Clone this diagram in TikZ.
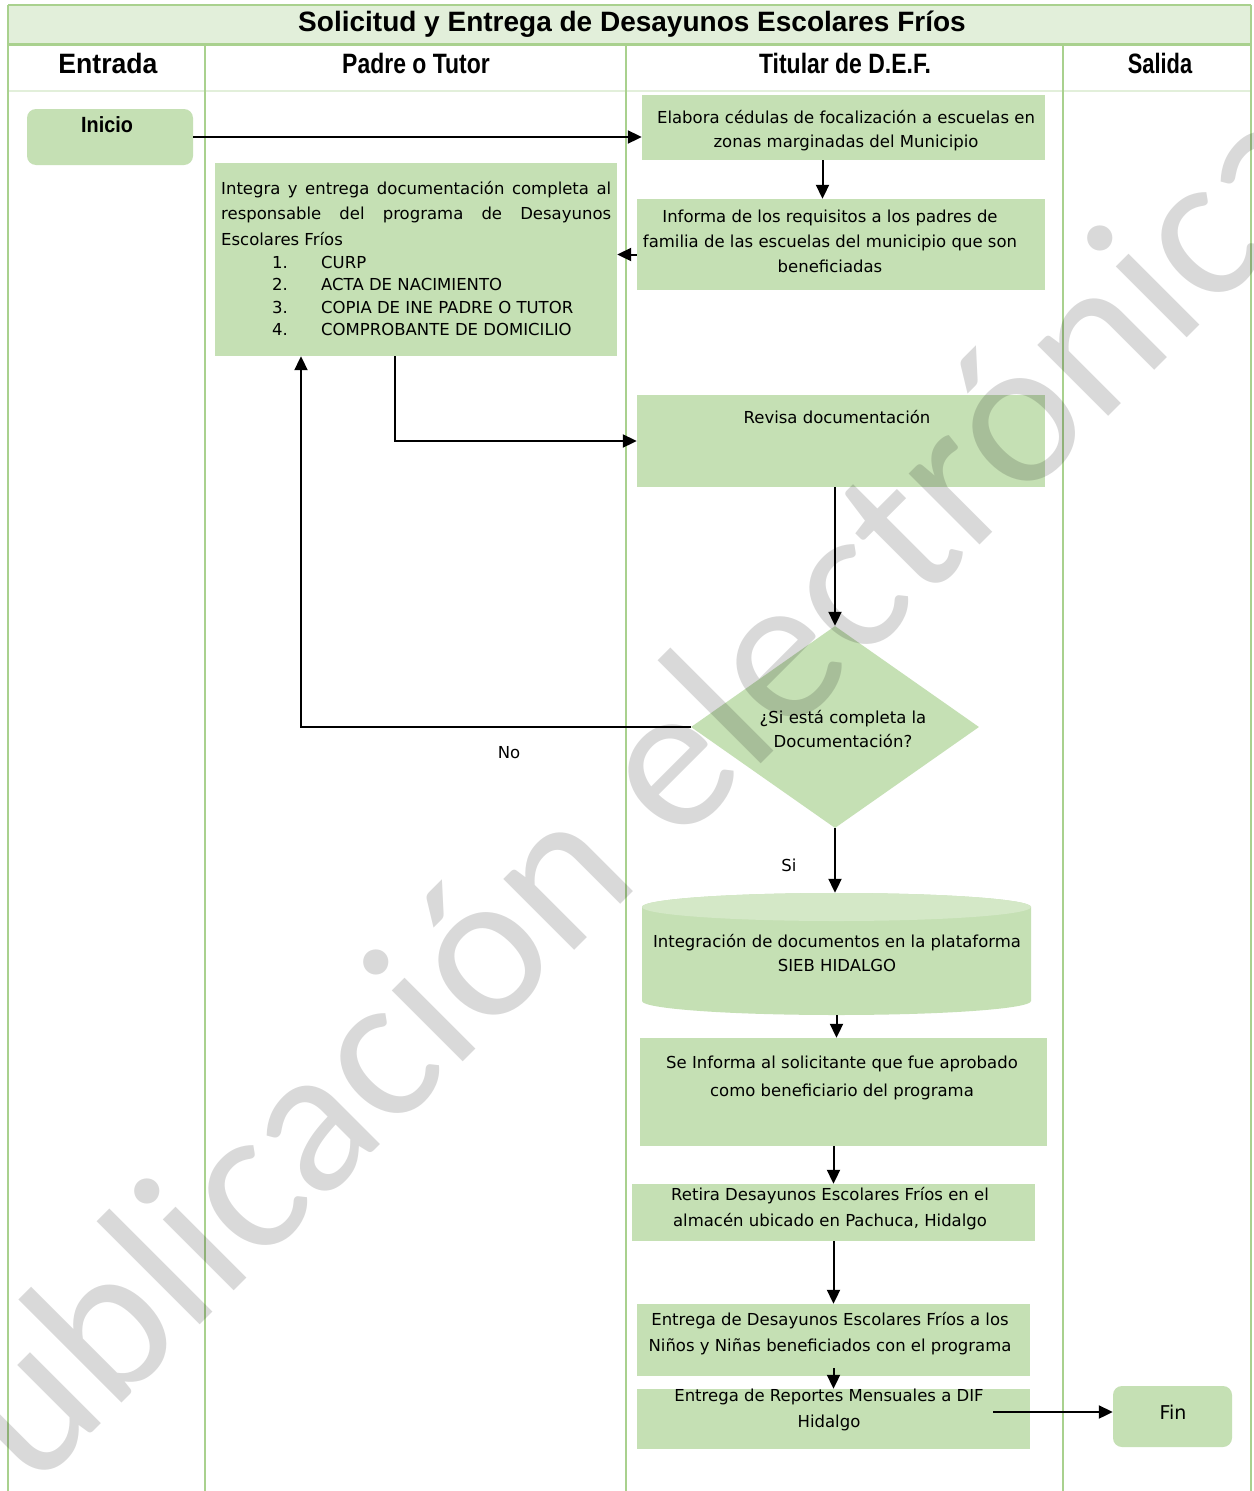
\documentclass[tikz,border=0pt]{standalone}
\usepackage{fontspec}
\usepackage{graphicx}
\setmainfont{Liberation Sans}
\newfontfamily\bodyfont{DejaVu Sans}
\newfontfamily\wmfont{Carlito}
\usetikzlibrary{arrows.meta,shapes.geometric,fit}
\definecolor{lanegreen}{HTML}{A9D18E}
\definecolor{bandfill}{HTML}{E2EFDA}
\definecolor{boxfill}{HTML}{C5E0B4}
\definecolor{cyltop}{HTML}{D4E8C7}

\begin{document}
\begin{tikzpicture}[x=1pt,y=-1pt,
  lane/.style={draw=lanegreen,line width=1.8pt},
  pbox/.style={fill=boxfill,draw=none,inner sep=0pt},
  rbox/.style={pbox,rounded corners=9pt},
  % multi-line texts are placed by the baseline of their last line
  body/.style={font=\bodyfont\fontsize{16.5pt}{#1}\selectfont,align=center,inner sep=0pt,anchor=base},
  body/.default={24pt},
  head/.style={font=\bfseries\fontsize{28pt}{30pt}\selectfont,inner sep=0pt,anchor=base},
  arr/.style={draw=black,line width=2pt,-{Triangle[length=14pt,width=13pt]}},
]
\useasboundingbox (0,0) rectangle (1253,1491);
\fill[white] (0,0) rectangle (1253,1491);

% title band and swimlane frame
\fill[bandfill] (8,5) rectangle (1251,44);
\draw[lane] (8,5) -- (1251,5);
\draw[lane,line width=2.6pt] (8,44.5) -- (1251,44.5);
\draw[draw=bandfill,line width=2.6pt] (8,91) -- (1251,91);
\draw[lane] (8,5) -- (8,1491);
\draw[lane] (205,44) -- (205,1491);
\draw[lane] (626,44) -- (626,1491);
\draw[lane] (1063,44) -- (1063,1491);
\draw[lane] (1251,5) -- (1251,1491);

\node[head] (titulo) at (632,31) {Solicitud y Entrega de Desayunos Escolares Fríos};
\node[head] (hentrada) at (108,73) {\scalebox{0.95}[1]{Entrada}};
\node[head] (hpadre) at (416,73) {\scalebox{0.82}[1]{Padre o Tutor}};
\node[head] (htitular) at (845,73) {\scalebox{0.82}[1]{Titular de D.E.F.}};
\node[head] (hsalida) at (1160,73) {\scalebox{0.78}[1]{Salida}};

% process shapes
\node[rbox, fit={(27,109) (193,165)}] (inicio) {};
\node[pbox, fit={(642,95) (1045,160)}] (b1) {};
\node[pbox, fit={(637,199) (1045,290)}] (b2) {};
\node[pbox, fit={(215,163) (617,356)}] (b3) {};
\node[pbox, fit={(637,395) (1045,487)}] (b4) {};
\node[diamond, fill=boxfill, inner sep=0pt, minimum width=288pt, minimum height=202pt] (dia) at (835,727) {};
\node[inner sep=0pt, fit={(642,893) (1031,1015)}] (cyl) {};
\fill[boxfill] (642,907) -- (642,1001) arc[start angle=180, end angle=360, x radius=194.5pt, y radius=14pt]
  -- (1031,907) arc[start angle=0, end angle=180, x radius=194.5pt, y radius=14pt] -- cycle;
\fill[cyltop] (836.5,907) ellipse [x radius=194.5pt, y radius=14pt];
\node[pbox, fit={(640,1038) (1047,1146)}] (b6) {};
\node[pbox, fit={(632,1184) (1035,1241)}] (b7) {};
\node[pbox, fit={(637,1304) (1030,1376)}] (b8) {};
\node[pbox, fit={(637,1389) (1030,1449)}] (b9) {};
\node[rbox, fit={(1113,1386) (1232,1447)}] (fin) {};

% texts
\node[head, font=\bfseries\fontsize{22pt}{24pt}\selectfont] (tinicio) at (107,132) {\scalebox{0.9}[1]{Inicio}};
\node[body] (t1) at (846,147) {Elabora cédulas de focalización a escuelas en\\zonas marginadas del Municipio};
\node[body=25pt] (t2) at (830,272) {Informa de los requisitos a los padres de\\familia de las escuelas del municipio que son\\beneficiadas};
\node[body=25.5pt, align=justify, text width=390pt, anchor=base west] (t3) at (221,194)
  {Integra y entrega documentación completa al\linebreak responsable del programa de Desayunos\linebreak Escolares Fríos};
\node[body=22.5pt, align=left, anchor=base west] (t3l) at (221,335.5)
  {\hspace*{51pt}\makebox[49pt][l]{1.}CURP\\
   \hspace*{51pt}\makebox[49pt][l]{2.}ACTA DE NACIMIENTO\\
   \hspace*{51pt}\makebox[49pt][l]{3.}COPIA DE INE PADRE O TUTOR\\
   \hspace*{51pt}\makebox[49pt][l]{4.}COMPROBANTE DE DOMICILIO};
\node[body] (t4) at (837,423) {Revisa documentación};
\node[body] (tdia) at (843,747) {¿Si está completa la\\Documentación?};
\node[body] (tno) at (509,758) {No};
\node[body] (tsi) at (789,871) {Si};
\node[body] (tcyl) at (837,971) {Integración de documentos en la plataforma\\SIEB HIDALGO};
\node[body=28pt] (t6) at (842,1096) {Se Informa al solicitante que fue aprobado\\como beneficiario del programa};
\node[body=26pt] (t7) at (830,1226) {Retira Desayunos Escolares Fríos en el\\almacén ubicado en Pachuca, Hidalgo};
\node[body=26pt] (t8) at (830,1351) {Entrega de Desayunos Escolares Fríos a los\\Niños y Niñas beneficiados con el programa};
\node[body=26pt] (t9) at (829,1427) {Entrega de Reportes Mensuales a DIF\\Hidalgo};
\node[body, font=\bodyfont\fontsize{19pt}{20pt}\selectfont] (tfin) at (1173,1419) {Fin};

% connectors
\draw[arr] (inicio.east) -- (inicio.east -| b1.west);
\draw[arr] ([xshift=-21pt]b1.south) -- ([xshift=-21pt]b1.south |- b2.north);
\draw[arr] ([yshift=-10pt]b2.west) -- ([yshift=-10pt]b2.west -| b3.east);
\draw[arr] ([xshift=-21pt]b3.south) |- (b4.west);
\draw[arr] (b4.south -| dia.north) -- (dia.north);
\draw[arr] (dia.west) -| ([xshift=-115pt]b3.south);
\draw[arr] (dia.south) -- (dia.south |- cyl.north);
\draw[arr] (cyl.south) -- (cyl.south |- b6.north);
\draw[arr] (b6.south -| b7.north) -- (b7.north);
\draw[arr] (b7.south) -- (b8.north);
\draw[arr] ([yshift=8pt]b8.south) -- (b9.north);
\draw[arr] ([xshift=-37pt,yshift=7pt]b9.east) -- ([yshift=7pt]b9.east -| fin.west);

% watermark
\begin{scope}
\clip (0,0) rectangle (1253,1491);
\node[font=\wmfont\fontsize{210pt}{210pt}\selectfont, text=black, text opacity=0.15,
  rotate=45, anchor=base, inner sep=0pt] (marca) at (650,875) {Publicación electrónica};
\end{scope}
\end{tikzpicture}
\end{document}
